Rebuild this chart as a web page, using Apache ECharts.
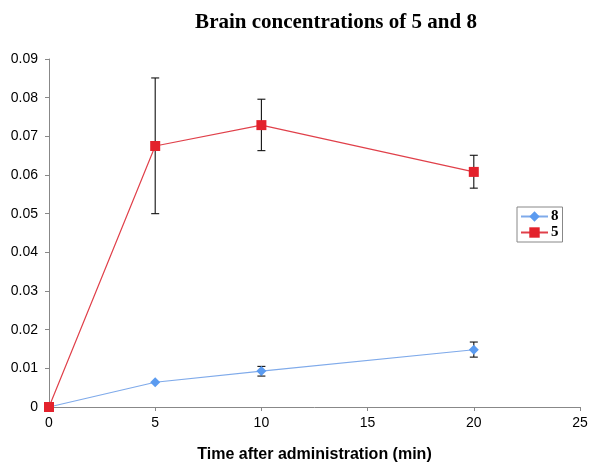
<!DOCTYPE html>
<html><head><meta charset="utf-8">
<script src="https://cdn.jsdelivr.net/npm/echarts@6/dist/echarts.min.js"></script>
<style>html,body{margin:0;padding:0;background:#fff}#c{width:600px;height:472px}</style>
</head><body><div id="c"></div>
<script>
var times = [0, 5, 10, 20];
var s5 = [0, 0.0675, 0.0729, 0.0608];
var s5Low = [null, 0.0500, 0.0663, 0.0566];
var s5High = [null, 0.0851, 0.0796, 0.0651];
var s8 = [0, 0.0064, 0.0093, 0.0148];
var s8Low = [null, null, 0.0080, 0.0129];
var s8High = [null, null, 0.0105, 0.0168];
var yTicks = ['0', '0.01', '0.02', '0.03', '0.04', '0.05', '0.06', '0.07', '0.08', '0.09'];

function pts(v){ return times.map(function(t,i){ return [t, v[i]]; }); }
function errs(lo, hi){
  var out = [];
  times.forEach(function(t,i){ if(lo[i]!=null && hi[i]!=null) out.push([t, lo[i], hi[i]]); });
  return out;
}
function errRender(params, api){
  var x = api.value(0), lo = api.value(1), hi = api.value(2);
  var p1 = api.coord([x, hi]), p2 = api.coord([x, lo]);
  var w = 4;
  var st = {stroke:'#111', lineWidth:1.1, fill:null};
  return {type:'group', children:[
    {type:'line', shape:{x1:p1[0], y1:p1[1], x2:p2[0], y2:p2[1]}, style:st},
    {type:'line', shape:{x1:p1[0]-w, y1:p1[1], x2:p1[0]+w, y2:p1[1]}, style:st},
    {type:'line', shape:{x1:p2[0]-w, y1:p2[1], x2:p2[0]+w, y2:p2[1]}, style:st}
  ]};
}

var chart = echarts.init(document.getElementById('c'), null, {renderer:'canvas'});
chart.setOption({
  animation:false,
  backgroundColor:'#fff',
  title:{text:'Brain concentrations of 5 and 8', left:331, textAlign:'center', top:7,
    textStyle:{fontFamily:'Liberation Serif', fontWeight:'bold', fontSize:21, color:'#000'}},
  legend:{orient:'vertical', left:517, top:207, padding:[2,4,2,3], itemGap:1,
    itemWidth:27, itemHeight:13, borderColor:'#888', borderWidth:1,
    textStyle:{fontFamily:'Liberation Serif', fontWeight:'bold', fontSize:15, color:'#000', padding:[0,0,0,-2]},
    data:['8','5']},
  grid:{left:49, right:20, top:59, bottom:65, containLabel:false},
  xAxis:{type:'value', min:0, max:25, interval:5,
    name:'Time after administration (min)', nameLocation:'middle', nameGap:40,
    nameTextStyle:{fontFamily:'Liberation Sans', fontWeight:'bold', fontSize:16, color:'#000'},
    axisLine:{lineStyle:{color:'#888'}}, axisTick:{show:true, length:4, lineStyle:{color:'#888'}},
    axisLabel:{fontFamily:'Liberation Sans', fontSize:14, color:'#000', margin:9},
    splitLine:{show:false}},
  yAxis:{type:'value', min:0, max:0.09, interval:0.01,
    axisLine:{show:true, lineStyle:{color:'#888'}}, axisTick:{show:true, length:4, lineStyle:{color:'#888'}},
    axisLabel:{fontFamily:'Liberation Sans', fontSize:14, color:'#000', margin:11,
      formatter:function(v){ var i = Math.round(v/0.01); return yTicks[i]; }},
    splitLine:{show:false}},
  series:[
    {name:'8', type:'line', data:pts(s8), symbol:'diamond', symbolSize:10,
      itemStyle:{color:'#5b9bf0'}, lineStyle:{color:'#7faaea', width:1.2}, z:3},
    {name:'5', type:'line', data:pts(s5), symbol:'rect', symbolSize:10,
      itemStyle:{color:'#e3222c'}, lineStyle:{color:'#e0404a', width:1.2}, z:4},
    {type:'custom', data:errs(s5Low, s5High), renderItem:errRender, z:2, silent:true},
    {type:'custom', data:errs(s8Low, s8High), renderItem:errRender, z:2, silent:true}
  ]
});
</script></body></html>
